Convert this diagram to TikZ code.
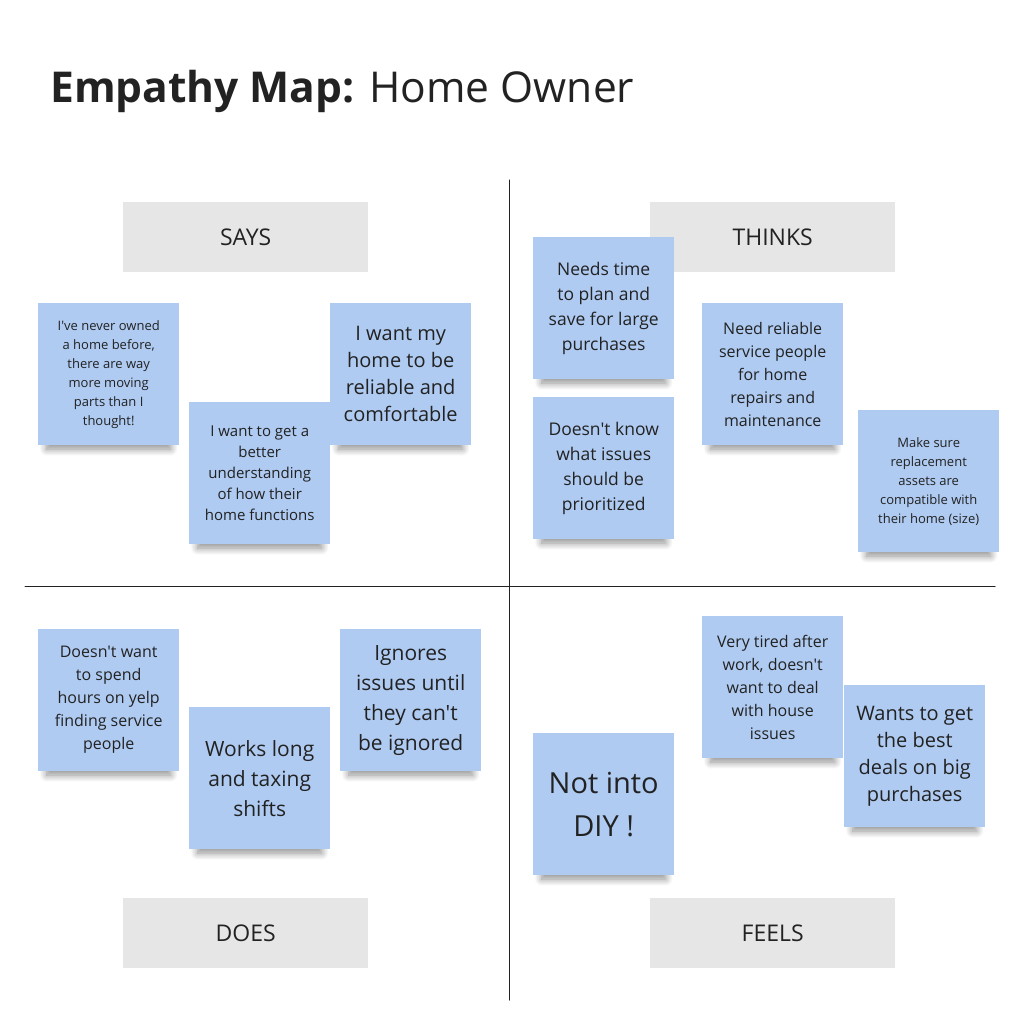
\documentclass[tikz,border=0pt]{standalone}
\usepackage{fontspec}
\setmainfont{Open Sans}[Ligatures=TeXOff]
\usetikzlibrary{shadows.blur}
\definecolor{notebl}{HTML}{AFCBF2}
\definecolor{headgr}{HTML}{E6E6E6}
\definecolor{inkgr}{HTML}{222222}
\begin{document}
\begin{tikzpicture}[x=1pt, y=-1pt, line join=round, line cap=round,
	note/.style={fill=notebl, anchor=north west, minimum width=141pt, minimum height=142pt, inner sep=0pt, align=center, text=inkgr,
		blur shadow={shadow xshift=0pt, shadow yshift=-14pt, shadow scale=0.88, shadow opacity=45, shadow blur steps=12, shadow blur radius=8pt}},
	head/.style={fill=headgr, anchor=north west, minimum width=245pt, minimum height=70pt, inner sep=0pt, text=inkgr, font=\fontsize{23}{27}\selectfont}]
	\useasboundingbox (0,0) rectangle (1022,1024);
	\node[anchor=base west, inner sep=0pt, text=inkgr, font=\fontsize{42.5}{50}\selectfont] (title) at (50,103) {\textbf{Empathy Map:} Home Owner};
	% quadrants
	\path (509,180) coordinate (T) (509,1000) coordinate (B) (25,586) coordinate (L) (995,586) coordinate (R);
	\draw[inkgr, line width=1pt] (T)--(B) (L)--(R);
	\foreach \nm/\x/\y/\t in {says/123/202/SAYS, thinks/650/202/THINKS, does/123/898/DOES, feels/650/898/FEELS}{
		\node[head] (\nm) at (\x,\y) {\t};
	}
	% says
	\node[note, font=\fontsize{13}{19}\selectfont] (says1) at (38,303) {I've never owned\\a home before,\\there are way\\more moving\\parts than I\\thought!};
	\node[note, font=\fontsize{15}{21}\selectfont] (says2) at (189,402) {I want to get a\\better\\understanding\\of how their\\home functions};
	\node[note, font=\fontsize{20}{27}\selectfont] (says3) at (330,303) {I want my\\home to be\\reliable and\\comfortable};
	% thinks
	\node[note, font=\fontsize{17.5}{25}\selectfont] (thinks1) at (533,237) {Needs time\\to plan and\\save for large\\purchases};
	\node[note, font=\fontsize{17.5}{25}\selectfont] (thinks2) at (533,397) {Doesn't know\\what issues\\should be\\prioritized};
	\node[note, font=\fontsize{16}{23}\selectfont] (thinks3) at (702,303) {Need reliable\\service people\\for home\\repairs and\\maintenance};
	\node[note, font=\fontsize{13}{19}\selectfont] (thinks4) at (858,410) {Make sure\\replacement\\assets are\\compatible with\\their home (size)};
	% does
	\node[note, font=\fontsize{16}{23}\selectfont] (does1) at (38,629) {Doesn't want\\to spend\\hours on yelp\\finding service\\people};
	\node[note, font=\fontsize{21}{30}\selectfont] (does2) at (189,707) {Works long\\and taxing\\shifts};
	\node[note, font=\fontsize{21}{30}\selectfont] (does3) at (340,629) {Ignores\\issues until\\they can't\\be ignored};
	% feels
	\node[note, font=\fontsize{29}{43}\selectfont] (feels1) at (533,733) {Not into\\DIY !};
	\node[note, font=\fontsize{16}{23}\selectfont] (feels2) at (702,616) {Very tired after\\work, doesn't\\want to deal\\with house\\issues};
	\node[note, font=\fontsize{20}{27}\selectfont] (feels3) at (844,685) {Wants to get\\the best\\deals on big\\purchases};
\end{tikzpicture}
\end{document}
